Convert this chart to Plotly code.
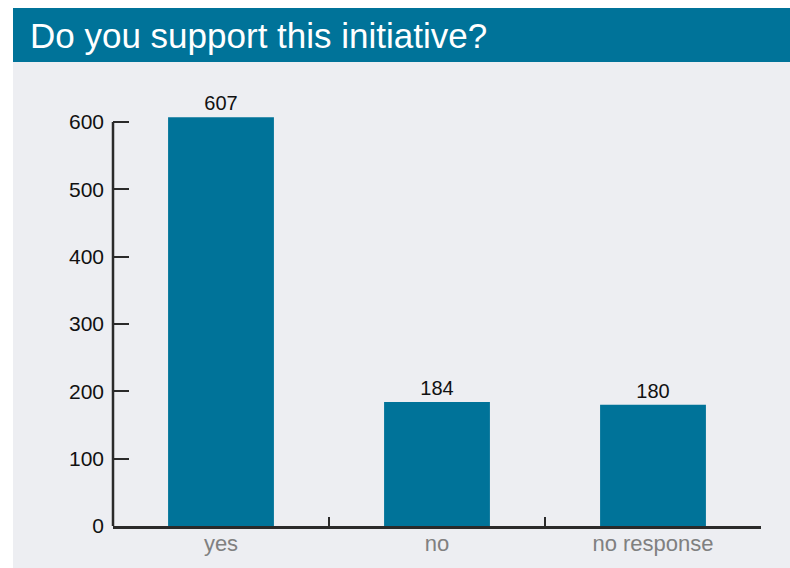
import plotly.graph_objects as go

# Survey responses
categories = ["yes", "no", "no response"]
counts = [607, 184, 180]
y_ticks = [0, 100, 200, 300, 400, 500, 600]

title_text = "Do you support this initiative?"

BLUE = "#007399"
PANEL = "#EDEEF2"
AXIS = "#2a2a2a"
FONT = "Liberation Sans, Arial, sans-serif"

W, H = 790, 568
ML, MR, MT, MB = 113, 29, 95, 42
plot_w = W - ML - MR
plot_h = H - MT - MB


def px_x(px):
    return (px - ML) / plot_w


def px_y(py):
    return (H - MB - py) / plot_h


fig = go.Figure(
    go.Bar(
        x=categories,
        y=counts,
        marker=dict(color=BLUE, line=dict(width=0)),
        text=[str(v) for v in counts],
        textposition="outside",
        textfont=dict(family=FONT, size=20, color="#111111"),
        cliponaxis=False,
        hoverinfo="skip",
    )
)

shapes = [
    # light panel behind the chart
    dict(type="rect", xref="paper", yref="paper",
         x0=px_x(13), x1=px_x(W), y0=px_y(H), y1=px_y(62),
         fillcolor=PANEL, line=dict(width=0), layer="below"),
    # header band
    dict(type="rect", xref="paper", yref="paper",
         x0=px_x(13), x1=px_x(W), y0=px_y(62), y1=px_y(8),
         fillcolor=BLUE, line=dict(width=0), layer="below"),
    # value axis line, running from 0 to the top tick
    dict(type="line", xref="x domain", yref="y",
         x0=0, x1=0, y0=0, y1=max(y_ticks),
         line=dict(color=AXIS, width=2.5)),
]

fig.update_layout(
    width=W,
    height=H,
    margin=dict(l=ML, r=MR, t=MT, b=MB, autoexpand=False),
    paper_bgcolor="white",
    plot_bgcolor="rgba(0,0,0,0)",
    showlegend=False,
    bargap=0.51,
    shapes=shapes,
    annotations=[
        dict(text=title_text, xref="paper", yref="paper",
             x=px_x(28), y=px_y(35), xanchor="left", yanchor="middle",
             showarrow=False,
             font=dict(family=FONT, size=35, color="white")),
    ],
    xaxis=dict(
        type="category",
        automargin=False,
        showline=True, linecolor=AXIS, linewidth=2.5,
        ticks="inside", tickson="boundaries", ticklen=9,
        tickwidth=2, tickcolor=AXIS,
        showgrid=False, zeroline=False,
        tickfont=dict(family=FONT, size=22, color="#808080"),
        ticklabelstandoff=-4,
    ),
    yaxis=dict(
        range=[0, 640],
        automargin=False,
        tickvals=y_ticks,
        ticks="inside", ticklen=16, tickwidth=2, tickcolor=AXIS,
        showline=False, showgrid=False, zeroline=False,
        tickfont=dict(family=FONT, size=21, color="#111111"),
        ticklabelstandoff=8,
    ),
)

fig.write_html("out.html")
